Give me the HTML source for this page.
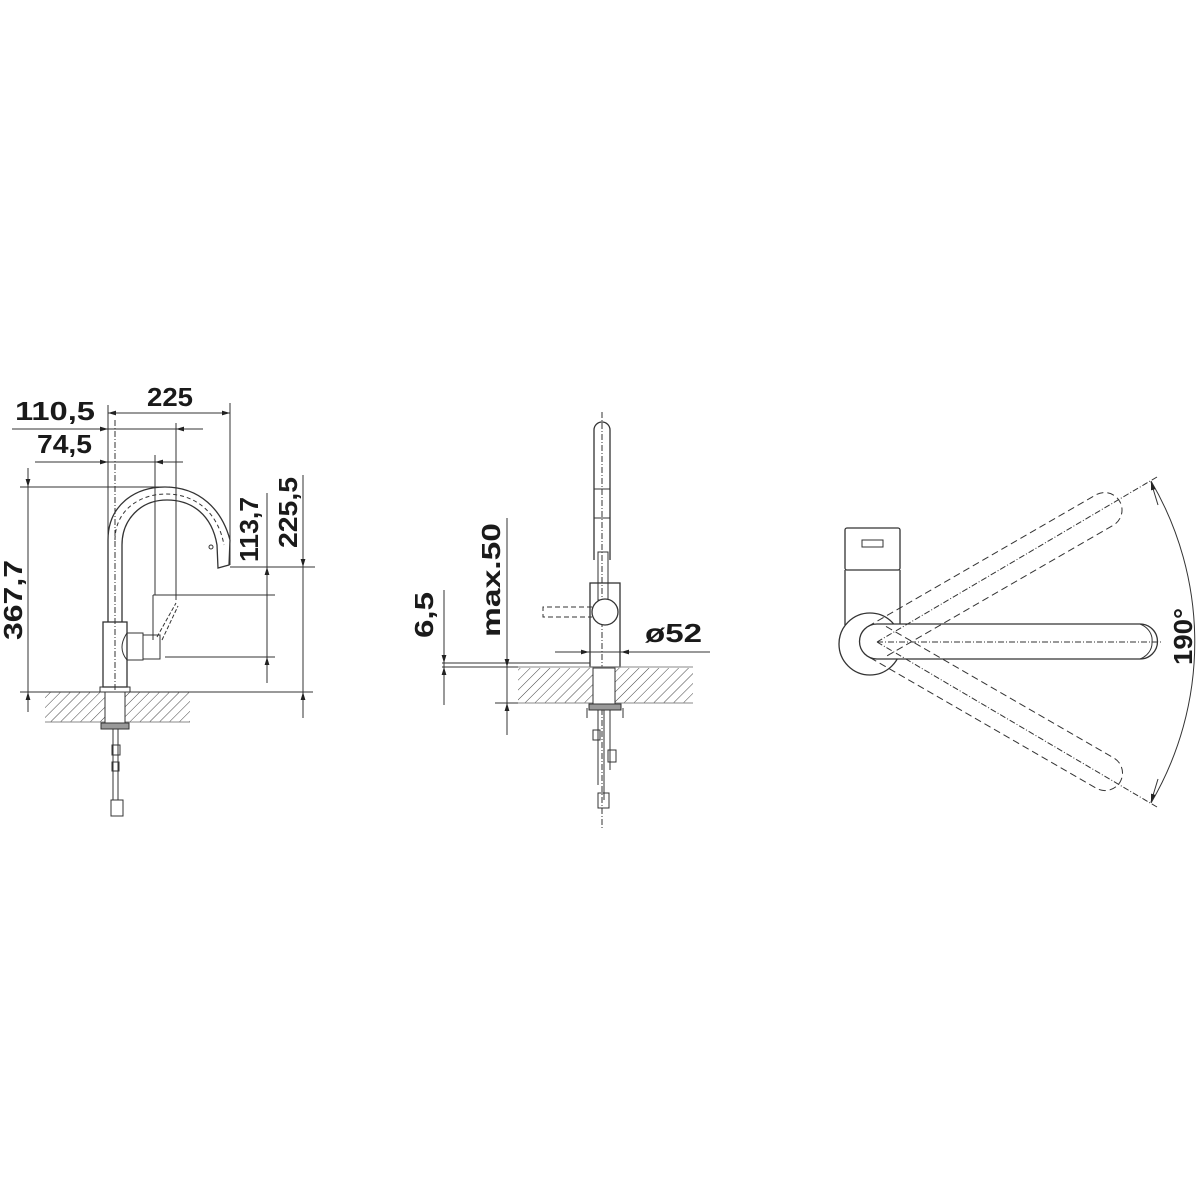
<!DOCTYPE html>
<html><head><meta charset="utf-8"><style>
html,body{margin:0;padding:0;background:#fff}
svg{display:block}
text{font-family:"Liberation Sans",sans-serif;font-weight:bold;fill:#1a1a1a}
</style></head><body>
<svg width="1200" height="1200" viewBox="0 0 1200 1200" xmlns="http://www.w3.org/2000/svg">
<defs>
<pattern id="h" width="7" height="7" patternUnits="userSpaceOnUse" patternTransform="rotate(45)">
<line x1="0" y1="0" x2="0" y2="7" stroke="#444" stroke-width="1"/>
</pattern>
<marker id="a" viewBox="0 0 10 10" refX="10" refY="5" markerWidth="14" markerHeight="8" markerUnits="userSpaceOnUse" orient="auto">
<path d="M0,2 L10,5 L0,8z" fill="#222"/>
</marker>
</defs>
<g stroke="#333" stroke-width="1" fill="none">
<!-- ===== LEFT VIEW ===== -->
<line x1="108" y1="405" x2="108" y2="560"/>
<line x1="230" y1="403" x2="230" y2="565"/>
<line x1="176" y1="423" x2="176" y2="600"/>
<line x1="155" y1="455" x2="155" y2="595"/>
<line x1="115" y1="420" x2="115" y2="700" stroke-dasharray="6 2 1 2"/>
<line x1="20" y1="487" x2="170" y2="487"/>
<line x1="20" y1="692" x2="313" y2="692"/>
<line x1="230" y1="567" x2="315" y2="567"/>
<line x1="153" y1="595" x2="275" y2="595"/>
<line x1="165" y1="657" x2="275" y2="657"/>
<line x1="108" y1="413" x2="230" y2="413"/>
<line x1="130" y1="413" x2="108" y2="413" marker-end="url(#a)"/>
<line x1="208" y1="413" x2="230" y2="413" marker-end="url(#a)"/>
<line x1="12" y1="429" x2="203" y2="429"/>
<line x1="90" y1="429" x2="108" y2="429" marker-end="url(#a)"/>
<line x1="196" y1="429" x2="176" y2="429" marker-end="url(#a)"/>
<line x1="35" y1="462" x2="183" y2="462"/>
<line x1="90" y1="462" x2="108" y2="462" marker-end="url(#a)"/>
<line x1="173" y1="462" x2="155" y2="462" marker-end="url(#a)"/>
<line x1="28" y1="468" x2="28" y2="712"/>
<line x1="28" y1="468" x2="28" y2="487" marker-end="url(#a)"/>
<line x1="28" y1="712" x2="28" y2="692" marker-end="url(#a)"/>
<line x1="267" y1="493" x2="267" y2="683"/>
<line x1="267" y1="585" x2="267" y2="567" marker-end="url(#a)"/>
<line x1="267" y1="676" x2="267" y2="657" marker-end="url(#a)"/>
<line x1="303" y1="475" x2="303" y2="718"/>
<line x1="303" y1="548" x2="303" y2="567" marker-end="url(#a)"/>
<line x1="303" y1="712" x2="303" y2="692" marker-end="url(#a)"/>
<path d="M108,622 L108,540 C108,505 135,487 165,487 C200,487 222,510 230,540 L229,565 L218,568 L217,545 C212,515 192,500 167,500 C140,500 122,520 122,545 L122,622" stroke-width="1.3"/>
<path d="M115,540 C115,510 140,494 166,494 C195,494 218,512 224,545" stroke-dasharray="4 3"/>
<circle cx="211" cy="547" r="2"/>
<rect x="103" y="622" width="24" height="65" stroke-width="1.3"/>
<rect x="100" y="687" width="30" height="5"/>
<path d="M127,633 L143,633 L143,660 L127,660 Q117,648 127,633" />
<rect x="143" y="635" width="17" height="24"/>
<line x1="153" y1="595" x2="153" y2="640"/>
<line x1="157" y1="637" x2="176" y2="603" stroke-dasharray="4 2"/>
<line x1="162" y1="640" x2="178" y2="606" stroke-dasharray="4 2"/>
<rect x="45" y="692" width="145" height="30" fill="url(#h)" stroke="none"/>
<line x1="45" y1="722" x2="190" y2="722" stroke="#888"/>
<rect x="105" y="692" width="20" height="31" fill="#fff"/>
<rect x="101" y="723" width="28" height="6" fill="#999"/>
<line x1="113" y1="729" x2="113" y2="800"/>
<line x1="118" y1="729" x2="118" y2="800"/>
<rect x="112" y="745" width="8" height="10"/>
<rect x="112" y="762" width="7" height="9"/>
<rect x="111" y="800" width="12" height="16"/>
</g>
<text x="147" y="406" font-size="26" textLength="46" lengthAdjust="spacingAndGlyphs">225</text>
<text x="15" y="420" font-size="26" textLength="80" lengthAdjust="spacingAndGlyphs">110,5</text>
<text x="37" y="453" font-size="26" textLength="55" lengthAdjust="spacingAndGlyphs">74,5</text>
<text font-size="26" textLength="80" lengthAdjust="spacingAndGlyphs" transform="translate(22,640) rotate(-90)">367,7</text>
<text font-size="26" textLength="65" lengthAdjust="spacingAndGlyphs" transform="translate(258,562) rotate(-90)">113,7</text>
<text font-size="26" textLength="71" lengthAdjust="spacingAndGlyphs" transform="translate(297,548) rotate(-90)">225,5</text>

<g stroke="#333" stroke-width="1" fill="none">
<!-- ===== MIDDLE VIEW ===== -->
<line x1="602" y1="412" x2="602" y2="830" stroke-dasharray="6 2 1 2"/>
<path d="M594,560 L594,430 A8,8 0 0 1 610,430 L610,560" stroke-width="1.3"/>
<line x1="594" y1="489" x2="610" y2="489"/>
<line x1="594" y1="518" x2="610" y2="518"/>
<rect x="598" y="552" width="10" height="48"/>
<rect x="590" y="583" width="30" height="84" stroke-width="1.3"/>
<circle cx="605" cy="612" r="13" fill="#fff" stroke-width="1.3"/>
<path d="M592,607 L543,607 L543,617 L592,617" stroke-dasharray="5 3"/>
<line x1="555" y1="652" x2="710" y2="652"/>
<line x1="570" y1="652" x2="589" y2="652" marker-end="url(#a)"/>
<line x1="640" y1="652" x2="621" y2="652" marker-end="url(#a)"/>
<line x1="442" y1="663" x2="590" y2="663"/>
<line x1="495" y1="703" x2="590" y2="703"/>
<line x1="444" y1="590" x2="444" y2="705"/>
<line x1="444" y1="643" x2="444" y2="663" marker-end="url(#a)"/>
<line x1="444" y1="688" x2="444" y2="667" marker-end="url(#a)"/>
<line x1="507" y1="518" x2="507" y2="735"/>
<line x1="507" y1="647" x2="507" y2="667" marker-end="url(#a)"/>
<line x1="507" y1="724" x2="507" y2="703" marker-end="url(#a)"/>
<line x1="442" y1="667" x2="518" y2="667"/>
<rect x="518" y="668" width="175" height="35" fill="url(#h)" stroke="none"/>
<line x1="518" y1="667" x2="693" y2="667" stroke="#888"/>
<line x1="518" y1="703" x2="693" y2="703" stroke="#888"/>
<rect x="593" y="668" width="22" height="36" fill="#fff"/>
<rect x="589" y="704" width="32" height="6" fill="#999"/>
<path d="M587,708 L587,718 M623,708 L623,718"/>
<line x1="598" y1="710" x2="598" y2="785"/>
<line x1="604" y1="710" x2="604" y2="800"/>
<line x1="610" y1="710" x2="610" y2="770"/>
<rect x="593" y="730" width="7" height="10"/>
<rect x="608" y="750" width="8" height="12"/>
<rect x="598" y="793" width="11" height="15"/>

<!-- ===== RIGHT VIEW ===== -->
<rect x="845" y="528" width="55" height="42" rx="2" stroke-width="1.3"/>
<rect x="862" y="540" width="21" height="7"/>
<path d="M845,570 L845,625 M900,570 L900,625" stroke-width="1.3"/>
<circle cx="870" cy="644" r="31" fill="#fff" stroke-width="1.3"/>
<path d="M877,624 L1140,624 A17.5,17.5 0 0 1 1140,659 L877,659 A17.5,17.5 0 0 1 877,624 Z" fill="#fff" stroke-width="1.3"/>
<path d="M1140,624 A20,17.5 0 0 1 1152,642 A20,17.5 0 0 1 1140,659"/>
<line x1="877" y1="642" x2="1162" y2="642" stroke-dasharray="6 2 1 2"/>
<g transform="rotate(-30 877 642)" stroke-dasharray="7 4">
<path d="M877,624 L1140,624 A17.5,17.5 0 0 1 1140,659 L877,659"/>
</g>
<g transform="rotate(30 877 642)" stroke-dasharray="7 4">
<path d="M877,624 L1140,624 A17.5,17.5 0 0 1 1140,659 L877,659"/>
</g>
<line x1="877" y1="642" x2="1157" y2="477" stroke-dasharray="6 2 1 2"/>
<line x1="877" y1="642" x2="1157" y2="807" stroke-dasharray="6 2 1 2"/>
<path d="M1151,481 A318,318 0 0 1 1151,803"/>
<line x1="1158" y1="505" x2="1151" y2="482" marker-end="url(#a)"/>
<line x1="1158" y1="779" x2="1151" y2="802" marker-end="url(#a)"/>
</g>
<text font-size="26" textLength="46" lengthAdjust="spacingAndGlyphs" transform="translate(433,638) rotate(-90)">6,5</text>
<text font-size="26" textLength="114" lengthAdjust="spacingAndGlyphs" transform="translate(500,637) rotate(-90)">max.50</text>
<text x="645" y="642" font-size="26" textLength="57" lengthAdjust="spacingAndGlyphs">ø52</text>
<text font-size="26" textLength="57" lengthAdjust="spacingAndGlyphs" transform="translate(1192,665) rotate(-90)">190°</text>
</svg>
</body></html>
